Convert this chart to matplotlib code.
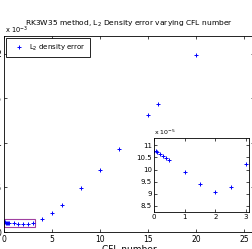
import numpy as np
import matplotlib
matplotlib.use('Agg')
import matplotlib.pyplot as plt
from matplotlib.patches import Rectangle

# CFL numbers and L2 density error
cfl = np.array([0, 0.05, 0.1, 0.2, 0.3, 0.4, 0.5, 1, 1.5, 2, 2.5, 3,
                4, 5, 6, 8, 10, 12, 15, 16, 20])
err = np.array([1.078e-4, 1.075e-4, 1.072e-4, 1.065e-4, 1.056e-4, 1.048e-4,
                1.041e-4, 9.90e-5, 9.40e-5, 9.08e-5, 9.26e-5, 1.024e-4,
                1.45e-4, 2.15e-4, 3.00e-4, 4.90e-4, 7.00e-4, 9.35e-4,
                1.31e-3, 1.44e-3, 1.985e-3])

plt.rcParams['font.family'] = 'DejaVu Sans'
W, H = 253, 249
fig = plt.figure(figsize=(W / 100, H / 100), dpi=100)
fig.patch.set_facecolor('white')

ax = fig.add_axes([4 / W, 17 / H, 250 / W, 196 / H])
ax.plot(cfl, err, '+', color='#0000ff', markersize=3.5, markeredgewidth=0.7,
        label='L$_2$ density error')
ax.set_xlim(0, 26)
ax.set_ylim(0, 2.2e-3)
ax.set_xticks([0, 5, 10, 15, 20, 25])
ax.set_yticks([0, 0.5e-3, 1e-3, 1.5e-3, 2e-3])
ax.set_yticklabels(['0', '0.5', '1', '1.5', '2'])
ax.tick_params(direction='in', labelsize=5.5, length=2.5, width=0.5,
               top=True, right=True, pad=2)
for s in ax.spines.values():
    s.set_linewidth(0.6)
ax.set_xlabel('CFL number', fontsize=6.5, labelpad=1)
ax.set_title('RK3W35 method, L$_2$ Density error varying CFL number',
             fontsize=5.4, pad=7)
ax.text(0.005, 1.0, 'x 10$^{-3}$', transform=ax.transAxes, fontsize=4.8,
        ha='left', va='bottom')
leg = ax.legend(loc='upper left', fontsize=5, handletextpad=0.2,
                borderpad=0.65, handlelength=2.4, fancybox=False,
                framealpha=1, edgecolor='black', borderaxespad=0.3)
leg.get_frame().set_linewidth(0.6)

# highlighted region around small CFL numbers
ax.add_patch(Rectangle((0.05, 0.6e-4), 3.15, 0.9e-4, fill=False,
                       edgecolor='#a040a0', linewidth=0.8))

# inset
axi = fig.add_axes([154 / W, (H - 212) / H, 95 / W, 74 / H])
m = cfl <= 3
axi.plot(cfl[m], err[m] * 1e5, '+', color='#0000ff', markersize=3.5,
         markeredgewidth=0.7)
axi.set_xlim(0, 3.1)
axi.set_ylim(8.25, 11.3)
axi.set_xticks([0, 1, 2, 3])
axi.set_yticks([8.5, 9, 9.5, 10, 10.5, 11])
axi.set_yticklabels(['8.5', '9', '9.5', '10', '10.5', '11'])
axi.tick_params(direction='in', labelsize=5, length=2, width=0.5,
                top=True, right=True, pad=1.5)
for s in axi.spines.values():
    s.set_linewidth(0.6)
axi.text(0.0, 1.02, 'x 10$^{-5}$', transform=axi.transAxes, fontsize=4.5,
         ha='left', va='bottom')

fig.savefig('out.png', dpi=100)
